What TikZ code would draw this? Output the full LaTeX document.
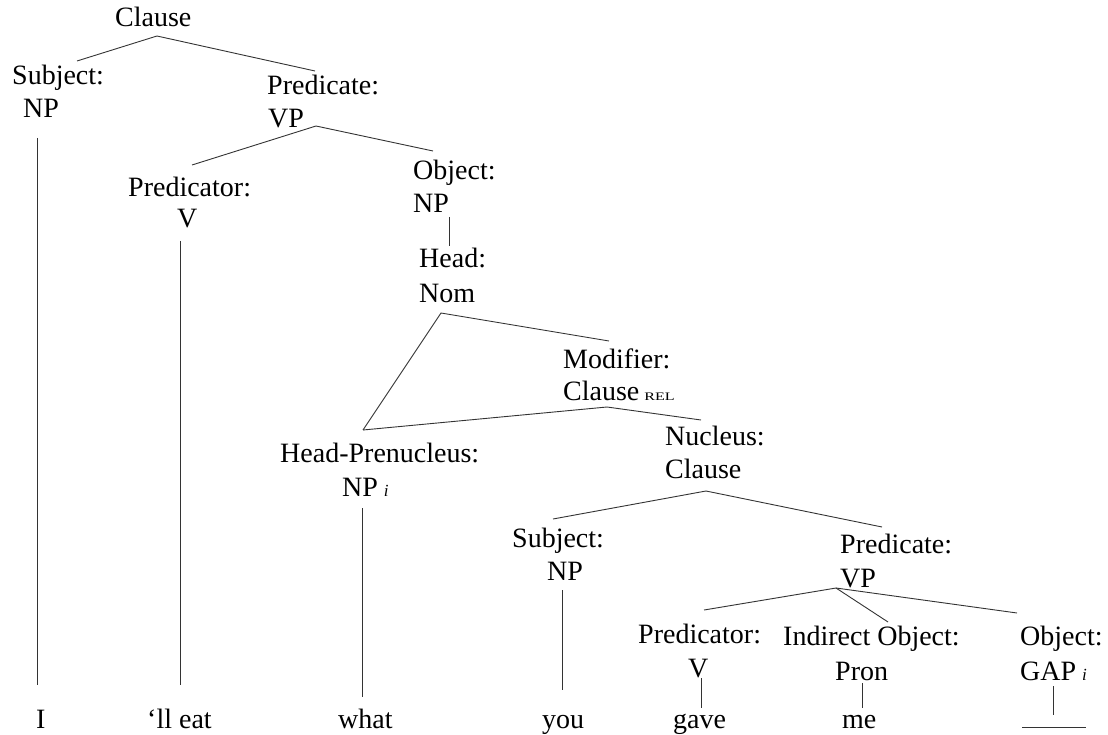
\documentclass[tikz,border=0pt]{standalone}
\usepackage{graphicx}
\usepackage{fontspec}
\setmainfont{Liberation Serif}
\newcommand{\idx}[1]{\hspace{6pt}{\fontsize{17}{17}\selectfont\itshape #1}}
\newcommand{\rel}{\hspace{5pt}\scalebox{1.4}[1]{\fontsize{11.5}{11.5}\selectfont REL}}
\begin{document}
\begin{tikzpicture}[x=1pt,y=-1pt,
  lbl/.style={anchor=base west, inner sep=0pt, font=\fontsize{28}{34}\selectfont},
  edge/.style={draw=black!80, line width=0.9pt},
]
\useasboundingbox (0,0) rectangle (1108,735);

% ---- labels (function / category lines) ----
\node[lbl] (clause)    at (115,27)  {Clause};
\node[lbl] (subjF)     at (12,85)   {Subject:};
\node[lbl] (subjC)     at (23,118)  {NP};
\node[lbl] (predF)     at (267,95)  {Predicate:};
\node[lbl] (predC)     at (268,128) {VP};
\node[lbl] (prtorF)    at (128,197) {Predicator:};
\node[lbl] (prtorC)    at (177,228) {V};
\node[lbl] (objF)      at (413,180) {Object:};
\node[lbl] (objC)      at (413,213) {NP};
\node[lbl] (headF)     at (419,268) {Head:};
\node[lbl] (headC)     at (419,302) {Nom};
\node[lbl] (modF)      at (563,368) {Modifier:};
\node[lbl] (modC)      at (563,400) {Clause\rel};
\node[lbl] (hpnF)      at (280,462) {Head-Prenucleus:};
\node[lbl] (hpnC)      at (342,496) {NP\idx{i}};
\node[lbl] (nucF)      at (665,445) {Nucleus:};
\node[lbl] (nucC)      at (665,478) {Clause};
\node[lbl] (subj2F)    at (512,547) {Subject:};
\node[lbl] (subj2C)    at (547,580) {NP};
\node[lbl] (pred2F)    at (840,553) {Predicate:};
\node[lbl] (pred2C)    at (840,587) {VP};
\node[lbl] (prtor2F)   at (638,643) {Predicator:};
\node[lbl] (prtor2C)   at (688,677) {V};
\node[lbl] (ioF)       at (783,645) {Indirect Object:};
\node[lbl] (ioC)       at (835,680) {Pron};
\node[lbl] (obj2F)     at (1020,645) {Object:};
\node[lbl] (obj2C)     at (1020,680) {GAP\idx{i}};

% ---- words ----
\node[lbl] (wI)    at (36,728)  {I};
\node[lbl] (wEat)  at (147,728) {‘ll eat};
\node[lbl] (wWhat) at (338,728) {what};
\node[lbl] (wYou)  at (542,728) {you};
\node[lbl] (wGave) at (673,728) {gave};
\node[lbl] (wMe)   at (842,728) {me};

% ---- branch points ----
\coordinate (clauseB)  at (157,36);
\coordinate (subjT)    at (77,61);
\coordinate (predT)    at (315,71);
\coordinate (subjB)    at (37,138);
\coordinate (wIT)      at (37,685);
\coordinate (predB)    at (316,126);
\coordinate (prtorT)   at (192,165);
\coordinate (objT)     at (433,151);
\coordinate (prtorB)   at (180,241);
\coordinate (wEatT)    at (180,685);
\coordinate (objB)     at (449,217);
\coordinate (headT)    at (449,246);
\coordinate (headB)    at (441,313);
\coordinate (hpnT)     at (363,430);
\coordinate (modT)     at (609,341);
\coordinate (modB)     at (607,407);
\coordinate (nucT)     at (701,420);
\coordinate (hpnB)     at (362,508);
\coordinate (wWhatT)   at (362,697);
\coordinate (nucB)     at (706,491);
\coordinate (subj2T)   at (553,519);
\coordinate (pred2T)   at (882,527);
\coordinate (subj2B)   at (562,590);
\coordinate (wYouT)    at (562,690);
\coordinate (pred2B)   at (836,588);
\coordinate (prtor2T)  at (704,610);
\coordinate (ioT)      at (888,622);
\coordinate (obj2T)    at (1017,613);
\coordinate (prtor2B)  at (701,678);
\coordinate (wGaveT)   at (701,708);
\coordinate (ioB)      at (862,683);
\coordinate (wMeT)     at (862,708);
\coordinate (obj2B)    at (1053,686);
\coordinate (gapT)     at (1053,715);
\coordinate (gapL)     at (1022,727);
\coordinate (gapR)     at (1086,727);

% ---- connectors ----
\draw[edge] (subjT) -- (clauseB) -- (predT);
\draw[edge] (subjB) -- (wIT);
\draw[edge] (prtorT) -- (predB) -- (objT);
\draw[edge] (prtorB) -- (wEatT);
\draw[edge] (objB) -- (headT);
\draw[edge] (hpnT) -- (headB) -- (modT);
\draw[edge] (hpnT) -- (modB) -- (nucT);
\draw[edge] (hpnB) -- (wWhatT);
\draw[edge] (subj2T) -- (nucB) -- (pred2T);
\draw[edge] (subj2B) -- (wYouT);
\draw[edge] (prtor2T) -- (pred2B) -- (obj2T);
\draw[edge] (pred2B) -- (ioT);
\draw[edge] (prtor2B) -- (wGaveT);
\draw[edge] (ioB) -- (wMeT);
\draw[edge] (obj2B) -- (gapT);
\draw[edge] (gapL) -- (gapR);
\end{tikzpicture}
\end{document}
